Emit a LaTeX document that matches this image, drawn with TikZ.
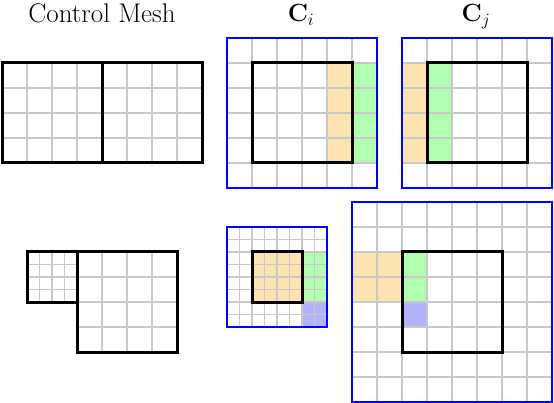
\documentclass[tikz,border=0pt]{standalone}
\usepackage{amsmath}
\definecolor{fillorange}{RGB}{253,226,178}
\definecolor{fillgreen}{RGB}{178,255,178}
\definecolor{filllav}{RGB}{178,178,255}
\definecolor{gridgray}{RGB}{200,200,200}
\newcommand\meshgrid[5]{%
  \foreach \k in {0,#5,...,#3} \draw[gridline] ({#1+\k},#2) -- ({#1+\k},{#2+#4});
  \foreach \k in {0,#5,...,#4} \draw[gridline] (#1,{#2+\k}) -- ({#1+#3},{#2+\k});
}
\tikzset{
  gridline/.style={draw=gridgray, line width=1.2pt},
  cell/.style={line width=3pt, line join=miter},
  patchbox/.style={draw=blue, line width=2pt},
  orangefill/.style={fill=fillorange},
  greenfill/.style={fill=fillgreen},
  lavfill/.style={fill=filllav},
  title/.style={font=\fontsize{27}{32}\selectfont, anchor=base, inner sep=0pt},
  mtitle/.style={font=\fontsize{25}{30}\selectfont, anchor=base, inner sep=0pt}
}
\begin{document}
\begin{tikzpicture}[x=1pt,y=-1pt]
\useasboundingbox (0,0) rectangle (554,403);
% titles
\node[title] (tmesh) at (102,23) {Control Mesh};
\node[mtitle] (tci) at (301,22) {$\mathbf{C}_i$};
\node[mtitle] (tcj) at (476,22) {$\mathbf{C}_j$};
% top left control mesh
\meshgrid{2}{63}{200}{100}{25}
\draw[cell] (2,63) rectangle (202,163) (102,63) -- (102,163);
% top Ci
\fill[orangefill] (327,63) rectangle (352,163);
\fill[greenfill] (352,63) rectangle (377,163);
\meshgrid{227}{38}{150}{150}{25}
\draw[cell] (252,63) rectangle (352,163);
\draw[patchbox] (227,38) rectangle (377,188);
% top Cj
\fill[orangefill] (402,63) rectangle (427,163);
\fill[greenfill] (427,63) rectangle (452,163);
\meshgrid{402}{38}{150}{150}{25}
\draw[cell] (427,63) rectangle (527,163);
\draw[patchbox] (402,38) rectangle (552,188);
% bottom left control mesh
\meshgrid{27}{252}{50}{50}{12.5}
\meshgrid{77}{252}{100}{100}{25}
\draw[cell] (27,252) rectangle (77,302);
\draw[cell] (77,252) rectangle (177,352);
% bottom Ci
\fill[orangefill] (252,252) rectangle (302,302);
\fill[greenfill] (302,252) rectangle (327,302);
\fill[lavfill] (302,302) rectangle (327,327);
\meshgrid{227}{227}{100}{100}{12.5}
\draw[cell] (252,252) rectangle (302,302);
\draw[patchbox] (227,227) rectangle (327,327);
% bottom Cj
\fill[orangefill] (352,252) rectangle (402,302);
\fill[greenfill] (402,252) rectangle (427,302);
\fill[lavfill] (402,302) rectangle (427,327);
\meshgrid{352}{202}{200}{200}{25}
\draw[cell] (402,252) rectangle (502,352);
\draw[patchbox] (352,202) rectangle (552,401.5);
\end{tikzpicture}
\end{document}
